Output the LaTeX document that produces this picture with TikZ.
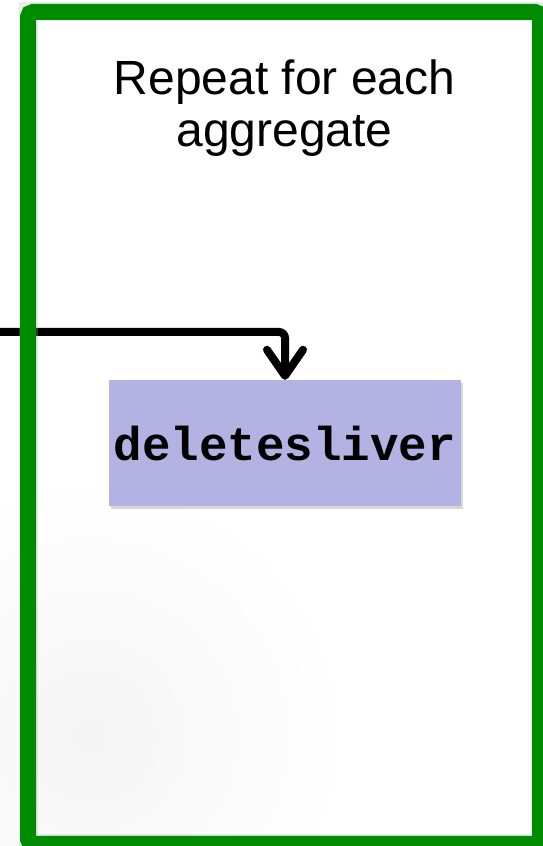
\documentclass[tikz,border=0pt]{standalone}
\usepackage{fontspec}
\setmainfont{Liberation Sans}
\setmonofont{Liberation Mono}
\usetikzlibrary{arrows.meta,positioning,shadows}
\definecolor{loopgreen}{RGB}{0,140,0}
\definecolor{callblue}{RGB}{178,179,227}
\tikzset{
    %Define standard arrow tip
    >={Straight Barb[length=26pt,width=36pt,line cap=round,line join=round]},
    %Define style for the repeat frame
    loopframe/.style={
           draw=loopgreen,
           line width=16pt,
           rounded corners=5pt},
    %Define style for boxes
    callbox/.style={
           rectangle,
           fill=callblue,
           minimum width=352pt,
           minimum height=126pt,
           text depth=0pt,
           font=\fontsize{47.5}{55}\selectfont\ttfamily\bfseries,
           drop shadow={shadow xshift=2pt,shadow yshift=-3pt,opacity=0.3}},
    % Define arrow style
    flow/.style={
           ->,
           line width=8pt,
           rounded corners=6pt}
}
\begin{document}
\begin{tikzpicture}[x=1pt,y=1pt]
  \useasboundingbox (0,0) rectangle (542,846);
  \fill[white] (0,0) rectangle (542,846);
  \shade[inner color=black!4,outer color=white] (90,110) circle (260);
  \node[callbox] (delete) at (285,403) {deletesliver};
  \coordinate (entry) at (0,514);
  \draw[flow] (entry) -| (delete.north);
  \draw[black!30,line width=19pt,opacity=0.25] (28,2) rectangle (540,834);
  \draw[loopframe] (28,2) rectangle (540,834);
  \node[align=center,inner sep=0pt,anchor=north,font=\fontsize{48}{52}\selectfont] (title) at (284.5,786) {Repeat for each\\aggregate};
\end{tikzpicture}
\end{document}
